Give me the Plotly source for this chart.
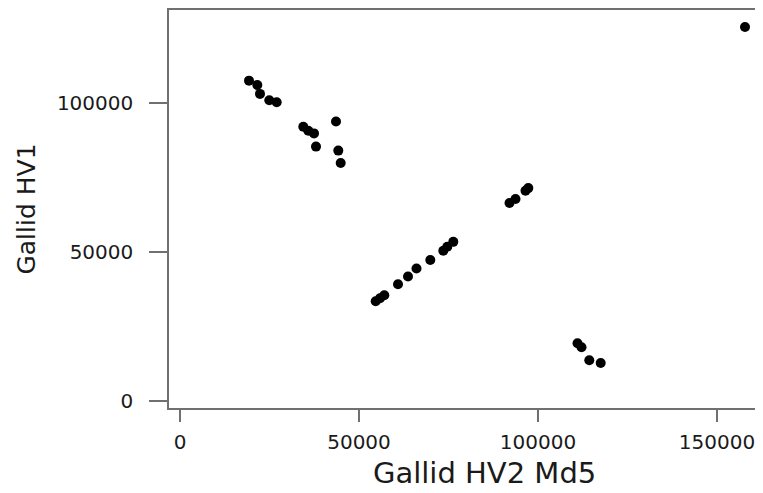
import plotly.graph_objects as go

# Data
hv2_md5 = [19274, 21592, 22346, 24944, 27011, 34441, 35838, 37430, 37989, 43575, 44218, 44888,
           54665, 55866, 57067, 60894, 63687, 66062, 69917, 73548, 74665, 76341,
           92039, 93715, 96508, 97291,
           111034, 112151, 114330, 117513,
           157821]
hv1 = [107433, 106000, 103000, 100867, 100200, 92000, 90667, 89767, 85333, 93767, 84000, 79867,
       33533, 34533, 35533, 39200, 41833, 44500, 47333, 50433, 51767, 53433,
       66433, 67767, 70533, 71433,
       19433, 18100, 13767, 12867,
       125433]

x_ticks = [0, 50000, 100000, 150000]
x_tick_labels = ["0", "50000", "100000", "150000"]
y_ticks = [0, 50000, 100000]
y_tick_labels = ["0", "50000", "100000"]

x_title = "Gallid HV2 Md5"
y_title = "Gallid HV1"

FONT = "DejaVu Sans"
AXIS_COL = "#707070"
TEXT_COL = "#1a1a1a"

fig = go.Figure()
fig.add_trace(go.Scatter(
    x=hv2_md5, y=hv1, mode="markers",
    marker=dict(size=10, color="black", line=dict(width=0)),
    showlegend=False, hoverinfo="x+y",
))

fig.update_layout(
    width=763, height=493,
    margin=dict(l=161, r=0, t=0, b=93),
    plot_bgcolor="white", paper_bgcolor="white",
    font=dict(family=FONT, color=TEXT_COL),
    annotations=[dict(
        text=x_title, xref="paper", yref="paper", x=0.5233, y=-0.1625,
        xanchor="center", yanchor="middle", showarrow=False,
        font=dict(family=FONT, size=29, color=TEXT_COL),
    )],
)
fig.update_xaxes(
    range=[-3073, 165084], showgrid=False, zeroline=False,
    showline=True, linecolor=AXIS_COL, linewidth=1.5, mirror=True,
    ticks="outside", ticklen=12, tickwidth=1.5, tickcolor=AXIS_COL,
    tickvals=x_ticks, ticktext=x_tick_labels,
    tickfont=dict(family=FONT, size=20, color=TEXT_COL),
    ticklabelstandoff=3,
)
fig.update_yaxes(
    range=[-2233, 131100], showgrid=False, zeroline=False,
    showline=True, linecolor=AXIS_COL, linewidth=1.5, mirror=False,
    ticks="outside", ticklen=18, tickwidth=1.5, tickcolor=AXIS_COL,
    tickvals=y_ticks, ticktext=y_tick_labels,
    tickfont=dict(family=FONT, size=20, color=TEXT_COL),
    ticklabelstandoff=12,
    title=dict(text=y_title, font=dict(family=FONT, size=25, color=TEXT_COL), standoff=14),
)

fig.write_html("out.html")
